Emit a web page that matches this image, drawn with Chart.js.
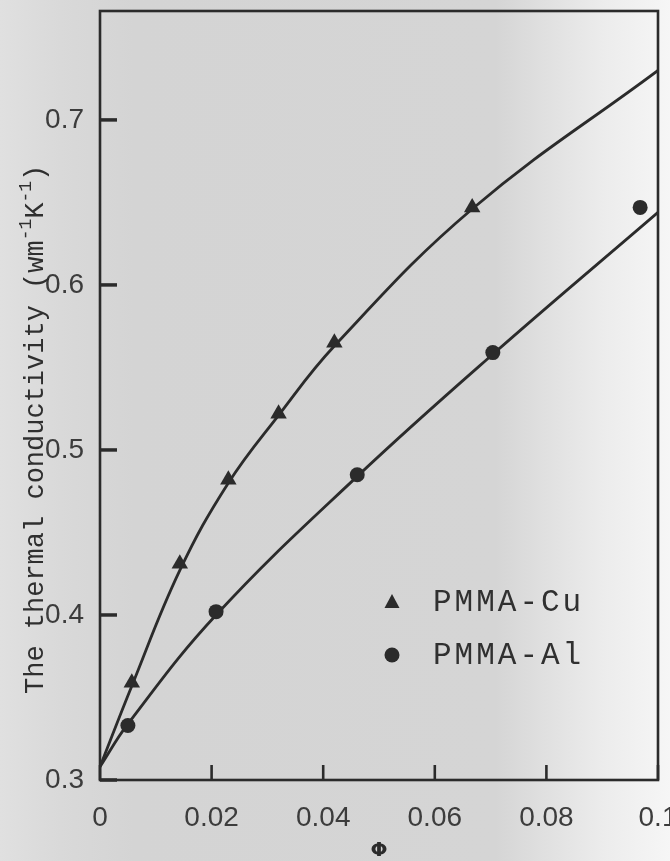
<!DOCTYPE html>
<html>
<head>
<meta charset="utf-8">
<script src="https://cdn.jsdelivr.net/npm/chart.js@4.4.1/dist/chart.umd.min.js"></script>
<style>
  html, body { margin: 0; padding: 0; background: #d6d6d6; }
  #wrap { width: 670px; height: 861px; }
</style>
</head>
<body>
<div id="wrap"><canvas id="myChart" width="670" height="861"></canvas></div>
<script>
// measured points
const cuPhi = [0.0057, 0.0143, 0.023, 0.032, 0.042, 0.0667];
const cuK   = [0.359, 0.431, 0.482, 0.522, 0.565, 0.647];
const alPhi = [0.005, 0.0208, 0.0461, 0.0704, 0.0968];
const alK   = [0.333, 0.402, 0.485, 0.559, 0.647];
// fitted curves
const cuFitPhi = [0, 0.0057, 0.0143, 0.023, 0.032, 0.042, 0.0667, 0.1];
const cuFitK   = [0.308, 0.357, 0.427, 0.480, 0.521, 0.563, 0.646, 0.730];
const alFitPhi = [0, 0.005, 0.0208, 0.0461, 0.0704, 0.1];
const alFitK   = [0.308, 0.334, 0.400, 0.484, 0.558, 0.644];
// axes
const xTicks = [0, 0.02, 0.04, 0.06, 0.08, 0.1];
const xTickLabels = ['0', '0.02', '0.04', '0.06', '0.08', '0.1'];
const yTicks = [0.3, 0.4, 0.5, 0.6, 0.7];
const yTickLabels = ['0.3', '0.4', '0.5', '0.6', '0.7'];
const seriesNames = ['PMMA-Cu', 'PMMA-Al'];

const INK = '#2b2b2b';
const LABEL = '#3c3c3c';

const toXY = (xs, ys) => xs.map((x, i) => ({x: x, y: ys[i]}));

/*********************** paper, frame, ticks, title, legend *************************/
const paperPlugin = {
  id: 'paper',
  beforeDraw(chart) {
    const {ctx, width, height} = chart;
    const g = ctx.createLinearGradient(0, 0, width, 0);
    g.addColorStop(0, '#e0e0e0');
    g.addColorStop(0.09, '#d9d9d9');
    g.addColorStop(0.2, '#d4d4d4');
    g.addColorStop(0.74, '#d5d5d5');
    g.addColorStop(0.82, '#e1e1e1');
    g.addColorStop(0.9, '#ececec');
    g.addColorStop(1, '#f6f6f6');
    ctx.save();
    ctx.fillStyle = g;
    ctx.fillRect(0, 0, width, height);
    ctx.restore();
  },
  beforeDatasetsDraw(chart) {
    const {ctx, chartArea: {left, right, top, bottom}, scales: {x, y}} = chart;
    ctx.save();
    ctx.strokeStyle = INK;
    ctx.lineWidth = 2.6;
    ctx.strokeRect(left, top, right - left, bottom - top);
    // ticks point inwards
    ctx.lineWidth = 3.5;
    yTicks.forEach(v => {
      const py = y.getPixelForValue(v);
      ctx.beginPath();
      ctx.moveTo(left, py);
      ctx.lineTo(left + 17, py);
      ctx.stroke();
    });
    ctx.lineWidth = 2.6;
    xTicks.forEach(v => {
      const px = x.getPixelForValue(v);
      ctx.beginPath();
      ctx.moveTo(px, bottom);
      ctx.lineTo(px, bottom - 15);
      ctx.stroke();
    });
    ctx.restore();
  },
  afterDraw(chart) {
    const {ctx} = chart;
    ctx.save();
    ctx.fillStyle = '#2f2f2f';
    // y title, rotated, with superscripts
    ctx.translate(43, 694);
    ctx.rotate(-Math.PI / 2);
    ctx.textAlign = 'left';
    ctx.textBaseline = 'alphabetic';
    const main = '27px "Liberation Mono", monospace';
    const sup = '18px "Liberation Mono", monospace';
    let cx = 0;
    const part = (txt, font, dy) => {
      ctx.font = font;
      ctx.fillText(txt, cx, dy);
      cx += ctx.measureText(txt).width;
    };
    part('The thermal conductivity (wm', main, 0);
    part('-1', sup, -12);
    part('K', main, 0);
    part('-1', sup, -12);
    part(')', main, 0);
    ctx.restore();

    // legend
    ctx.save();
    ctx.fillStyle = INK;
    const lx = 392, ly = [602, 655], tx = 433;
    ctx.beginPath();
    ctx.moveTo(lx, ly[0] - 8);
    ctx.lineTo(lx + 7.5, ly[0] + 6);
    ctx.lineTo(lx - 7.5, ly[0] + 6);
    ctx.closePath();
    ctx.fill();
    ctx.beginPath();
    ctx.arc(lx, ly[1], 7.5, 0, Math.PI * 2);
    ctx.fill();
    ctx.fillStyle = '#303030';
    ctx.font = '31px "Liberation Mono", monospace';
    ctx.textBaseline = 'middle';
    ctx.textAlign = 'left';
    if ('letterSpacing' in ctx) ctx.letterSpacing = '3px';
    ctx.fillText(seriesNames[0], tx, ly[0] + 1);
    ctx.fillText(seriesNames[1], tx, ly[1] + 1);
    ctx.restore();
  }
};

const ctx = document.getElementById('myChart').getContext('2d');

const myChart = new Chart(ctx, {
  type: 'scatter',
  data: {
    datasets: [
      {
        label: seriesNames[0],
        data: toXY(cuPhi, cuK),
        pointStyle: 'triangle',
        pointRadius: 9.5,
        backgroundColor: INK,
        borderWidth: 0
      },
      {
        label: seriesNames[1],
        data: toXY(alPhi, alK),
        pointStyle: 'circle',
        pointRadius: 7.5,
        backgroundColor: INK,
        borderWidth: 0
      },
      {
        label: 'Cu fit',
        data: toXY(cuFitPhi, cuFitK),
        showLine: true,
        tension: 0.4,
        pointRadius: 0,
        borderColor: INK,
        borderWidth: 2.8
      },
      {
        label: 'Al fit',
        data: toXY(alFitPhi, alFitK),
        showLine: true,
        tension: 0.4,
        pointRadius: 0,
        borderColor: INK,
        borderWidth: 2.8
      }
    ]
  },
  options: {
    responsive: false,
    animation: false,
    devicePixelRatio: 1,
    layout: {
      padding: {top: 11, right: 12, left: 0, bottom: 0}
    },
    plugins: {
      legend: {display: false},
      tooltip: {enabled: false}
    },
    scales: {
      x: {
        type: 'linear',
        min: 0,
        max: 0.1,
        border: {display: false},
        grid: {display: false},
        afterBuildTicks: (scale) => {
          scale.ticks = xTicks.map(v => ({value: v}));
        },
        afterFit: (scale) => {
          scale.height = 81;
          scale.paddingLeft = 0;
          scale.paddingRight = 0;
        },
        ticks: {
          padding: 13,
          maxRotation: 0,
          autoSkip: false,
          color: LABEL,
          font: {family: '"Liberation Sans", sans-serif', size: 28},
          callback: (value, index) => xTickLabels[index]
        },
        title: {
          display: true,
          text: 'Φ',
          color: INK,
          padding: {top: 0, bottom: 0},
          font: {family: '"DejaVu Sans", sans-serif', size: 20, weight: 'bold', lineHeight: 1}
        }
      },
      y: {
        type: 'linear',
        min: 0.3,
        max: 0.766,
        border: {display: false},
        grid: {display: false},
        afterBuildTicks: (scale) => {
          scale.ticks = yTicks.map(v => ({value: v}));
        },
        afterFit: (scale) => {
          scale.width = 100;
          scale.paddingTop = 0;
          scale.paddingBottom = 0;
        },
        ticks: {
          padding: 8,
          color: LABEL,
          font: {family: '"Liberation Sans", sans-serif', size: 28},
          callback: (value, index) => yTickLabels[index]
        }
      }
    }
  },
  plugins: [paperPlugin]
});
</script>
</body>
</html>
